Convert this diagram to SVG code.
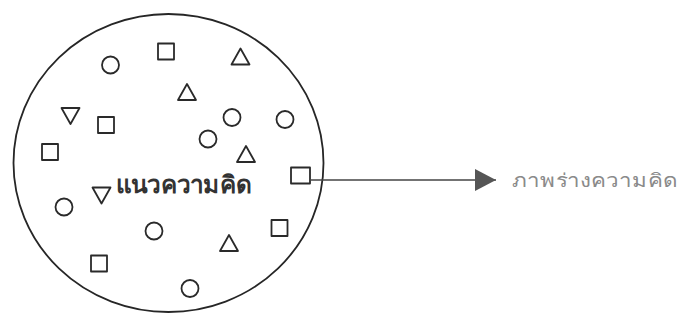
<svg xmlns="http://www.w3.org/2000/svg" width="682" height="321" viewBox="0 0 682 321">
<style>
.s{fill:none;stroke:#2a2a2a;stroke-width:1.8;stroke-linejoin:round}
.big{fill:none;stroke:#262626;stroke-width:1.8}
.conn{fill:none;stroke:#444;stroke-width:1.6}
.t1{font-family:"Noto Sans","DejaVu Sans",sans-serif;font-size:24px;font-weight:bold;fill:#333}
.t2{font-family:"Noto Sans","DejaVu Sans",sans-serif;font-size:19px;fill:#8a8a8a}
</style>
<defs>
<polygon id="tu" points="0,-8 9,8 -9,8"/>
<polygon id="td" points="-9,-8 9,-8 0,8"/>
<rect id="sq" x="-8" y="-8" width="16" height="16"/>
<marker id="ah" markerWidth="22" markerHeight="24" refX="21" refY="12" orient="auto" markerUnits="userSpaceOnUse">
<polygon points="0,1 21,12 0,23" fill="#555"/>
</marker>
</defs>
<rect width="682" height="321" fill="#fff"/>
<g id="concept">
<ellipse class="big" cx="168.5" cy="163" rx="155" ry="149"/>
<text class="t1" x="116" y="193" textLength="136" lengthAdjust="spacingAndGlyphs">แนวความคิด</text>
</g>
<g id="shapes">
<circle class="s" cx="110.5" cy="65" r="8.5"/>
<circle class="s" cx="232" cy="117.5" r="8.5"/>
<circle class="s" cx="285" cy="119.5" r="8.5"/>
<circle class="s" cx="208" cy="139" r="8.5"/>
<circle class="s" cx="64" cy="207" r="8.5"/>
<circle class="s" cx="154" cy="231" r="8.5"/>
<circle class="s" cx="190" cy="288.5" r="8.5"/>
<use href="#sq" class="s" x="166" y="51.5"/>
<use href="#sq" class="s" x="106" y="125"/>
<use href="#sq" class="s" x="50" y="152"/>
<use href="#sq" class="s" x="279.5" y="228"/>
<use href="#sq" class="s" x="99" y="263.5"/>
<use href="#tu" class="s" x="240.5" y="56.5"/>
<use href="#tu" class="s" x="187" y="92"/>
<use href="#tu" class="s" x="246" y="154"/>
<use href="#tu" class="s" x="229" y="243"/>
<use href="#td" class="s" x="70.5" y="116"/>
<use href="#td" class="s" x="101.5" y="195.5"/>
</g>
<g id="source">
<rect class="s" x="291" y="167.5" width="19" height="16"/>
</g>
<g id="connectors">
<line class="conn" x1="310" y1="180" x2="496" y2="180" marker-end="url(#ah)"/>
</g>
<g id="sketch">
<text class="t2" x="512" y="187" textLength="165" lengthAdjust="spacingAndGlyphs">ภาพร่างความคิด</text>
</g>
</svg>
